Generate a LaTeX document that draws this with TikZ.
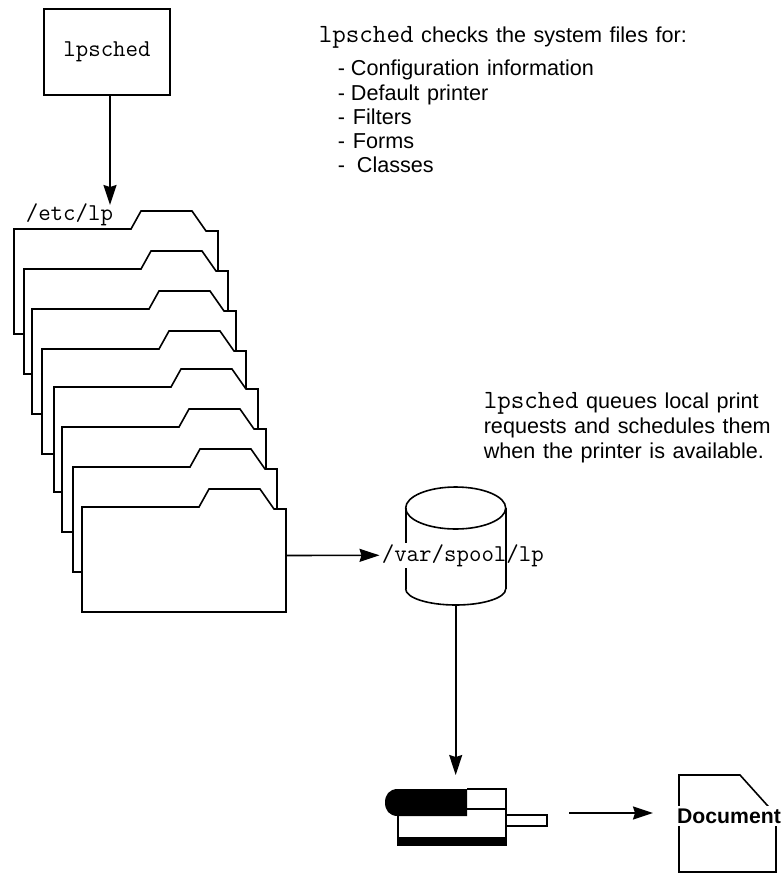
\documentclass[tikz,border=0pt]{standalone}
\usepackage{fontspec}
\setmainfont{Liberation Sans}
\usetikzlibrary{arrows.meta,positioning}
\newcommand{\lpmono}{\fontsize{26.3}{26}\selectfont\ttfamily}
\newcommand{\notefont}[1]{\fontsize{21.6}{#1}\selectfont\setlength{\spaceskip}{7.6pt}}
\begin{document}
\begin{tikzpicture}[
  x=1pt,y=-1pt,line width=1.6pt,
  folderline/.style={draw=black,fill=white,line join=miter},
  monolabel/.style={font=\fontsize{24.2}{26}\selectfont\ttfamily,inner sep=0pt},
  captext/.style={font=\notefont{24.2},inner sep=0pt,align=left},
  flowarrow/.style={-{Stealth[length=20pt,width=13pt,inset=2pt]},line width=1.6pt}
]
  \useasboundingbox (0,0) rectangle (782,873);

  % Scheduler box
  \node[draw,minimum width=126pt,minimum height=86pt,monolabel,line width=1.6pt] (lpsched) at (107,52) {lpsched};
  \node[monolabel,anchor=base west] (etclp) at (25,220) {/etc/lp};
  \coordinate (schedout) at (110,95);
  \coordinate (etcin) at (110,205);
  \draw[flowarrow] (schedout) -- (etcin);

  % Folder stack
  \foreach \fx/\fy [count=\i] in {14/229,24/269,32/309,42/349,54/387,62/427,73/467,82/507}{
    \draw[folderline] (\fx,\fy+105) -- (\fx,\fy) -- (\fx+117,\fy) -- (\fx+127,\fy-18)
      -- (\fx+178,\fy-18) -- (\fx+192,\fy+2) -- (\fx+204,\fy+2) -- (\fx+204,\fy+105) -- cycle;
  }
  \coordinate (folderout) at (286,555.5);

  % Spool cylinder
  \draw (405.7,508) -- (405.7,589);
  \node[monolabel,fill=white,anchor=base west,inner sep=1.5pt] (spool) at (379.5,561) {/var/spool/lp};
  \draw (455.7,508) ellipse [x radius=50pt,y radius=21pt];
  \draw (505.7,508) -- (505.7,589);
  \draw (405.7,589) arc (180:360:50pt and 16pt);
  \coordinate (spoolout) at (455.7,605);
  \draw[flowarrow] (folderout) -- (spool.west);

  % Printer
  \coordinate (printerin) at (455.7,775);
  \draw[flowarrow] (spoolout) -- (printerin);
  \fill (467,789) -- (398,789) .. controls (389,789) and (385,795) .. (385,802.5)
    .. controls (385,810) and (389,816) .. (398,816) -- (467,816) -- cycle;
  \draw (467,789) -- (506,789) -- (506,846);
  \draw (467,809) -- (506,809);
  \draw (398,816) -- (398,837);
  \fill (397.3,837) rectangle (506.7,846);
  \draw (506,815) rectangle (547,826);

  % Document
  \coordinate (printerout) at (569,813);
  \coordinate (docin) at (653,813);
  \draw[flowarrow] (printerout) -- (docin);
  \draw (679,872) -- (679,775) -- (740,775) -- (776,815) -- (776,872) -- cycle;
  \node[fill=white,inner sep=0pt,minimum width=104pt,minimum height=20pt,
    font=\fontsize{21.2}{24}\selectfont\bfseries] (document) at (729,816) {Document};

  % Notes
  \node[captext,anchor=base west] (checks) at (318,42) {{\lpmono lpsched} checks the system files for:};
  \node[captext,anchor=north west] (checklist) at (337,59.5) {%
    -\kern6pt Configuration information\\
    -\kern6pt Default printer\\
    -\kern8pt Filters\\
    -\kern8pt Forms\\
    -\kern12pt Classes};
  \node[captext,anchor=north west,font=\notefont{25}] (queues) at (483,392) {%
    {\lpmono lpsched} queues local print\\
    requests and schedules them\\
    when the printer is available.};
\end{tikzpicture}
\end{document}
